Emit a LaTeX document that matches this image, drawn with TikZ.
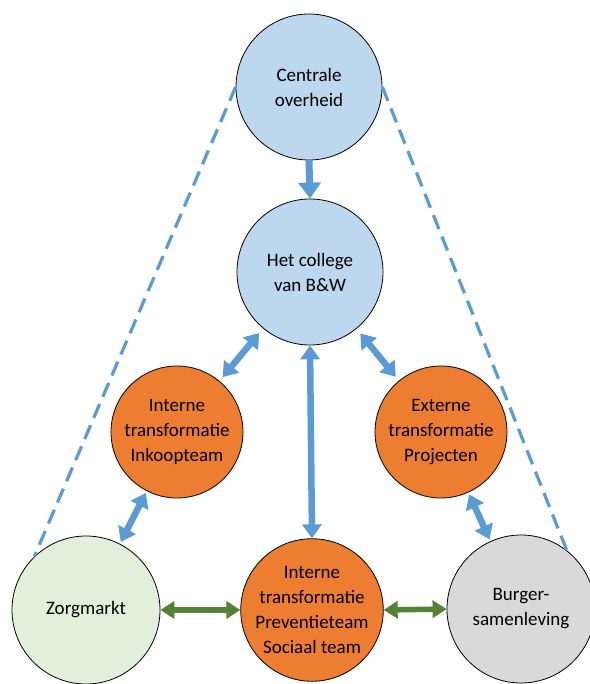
\documentclass[tikz,border=0pt]{standalone}
\usepackage{fontspec}
\setmainfont{Carlito}
\usetikzlibrary{arrows.meta}
\definecolor{cblue}{HTML}{BDD7EE}
\definecolor{corange}{HTML}{ED7D31}
\definecolor{cgreen}{HTML}{E2EFDA}
\definecolor{cgray}{HTML}{D9D9D9}
\definecolor{ablue}{HTML}{5B9BD5}
\definecolor{agreen}{HTML}{548235}
\begin{document}
\begin{tikzpicture}[x=1pt,y=-1pt,
  circ/.style={circle,draw=black,line width=0.8pt,inner sep=0pt,align=center,
    font=\fontsize{19}{25}\selectfont},
  bigc/.style={circ,minimum size=146pt},
  smallc/.style={circ,minimum size=132pt,fill=corange},
  barrow/.style={draw=ablue,line width=6.5pt,
    {Triangle[width=19pt,length=14pt]}-{Triangle[width=19pt,length=14pt]}},
  sarrow/.style={draw=ablue,line width=7pt,-{Triangle[width=22pt,length=16pt]}},
  garrow/.style={draw=agreen,line width=5.5pt,
    {Triangle[width=17pt,length=14pt]}-{Triangle[width=17pt,length=14pt]}},
  dline/.style={draw=ablue,line width=3.2pt,dash pattern=on 15pt off 8pt}]
\useasboundingbox (0,0) rectangle (589,684);
\node[bigc,fill=cblue] (cen) at (309,87) {Centrale\\overheid};
\node[bigc,fill=cblue] (col) at (310,272) {Het college\\van B\&W};
\node[smallc] (ink) at (177,432) {Interne\\transformatie\\Inkoopteam};
\node[smallc] (ext) at (441,432) {Externe\\transformatie\\Projecten};
\node[smallc] (pre) at (312,610) {Interne\\transformatie\\Preventieteam\\Sociaal team};
\node[bigc,fill=cgreen,minimum size=148pt] (zor) at (86,610) {Zorgmarkt};
\node[bigc,fill=cgray,minimum size=148pt] (bur) at (521,609) {Burger-\\samenleving};
\draw[dline] (cen.180) -- (zor.134);
\draw[dline] (cen.0) -- (bur.52);
\draw[sarrow] (cen.south) -- (col.north);
\draw[barrow,shorten <=6pt,shorten >=5pt] (col) -- (ink);
\draw[barrow,shorten <=6pt,shorten >=5pt] (col) -- (ext);
\draw[barrow] (col.south) -- (pre.north);
\draw[barrow,shorten <=2pt,shorten >=2pt] (ink) -- (zor);
\draw[barrow,shorten <=2pt,shorten >=2pt] (ext) -- (bur);
\draw[garrow] (zor.east) -- (pre.west);
\draw[garrow] (pre.east) -- (bur.west);
\end{tikzpicture}
\end{document}
